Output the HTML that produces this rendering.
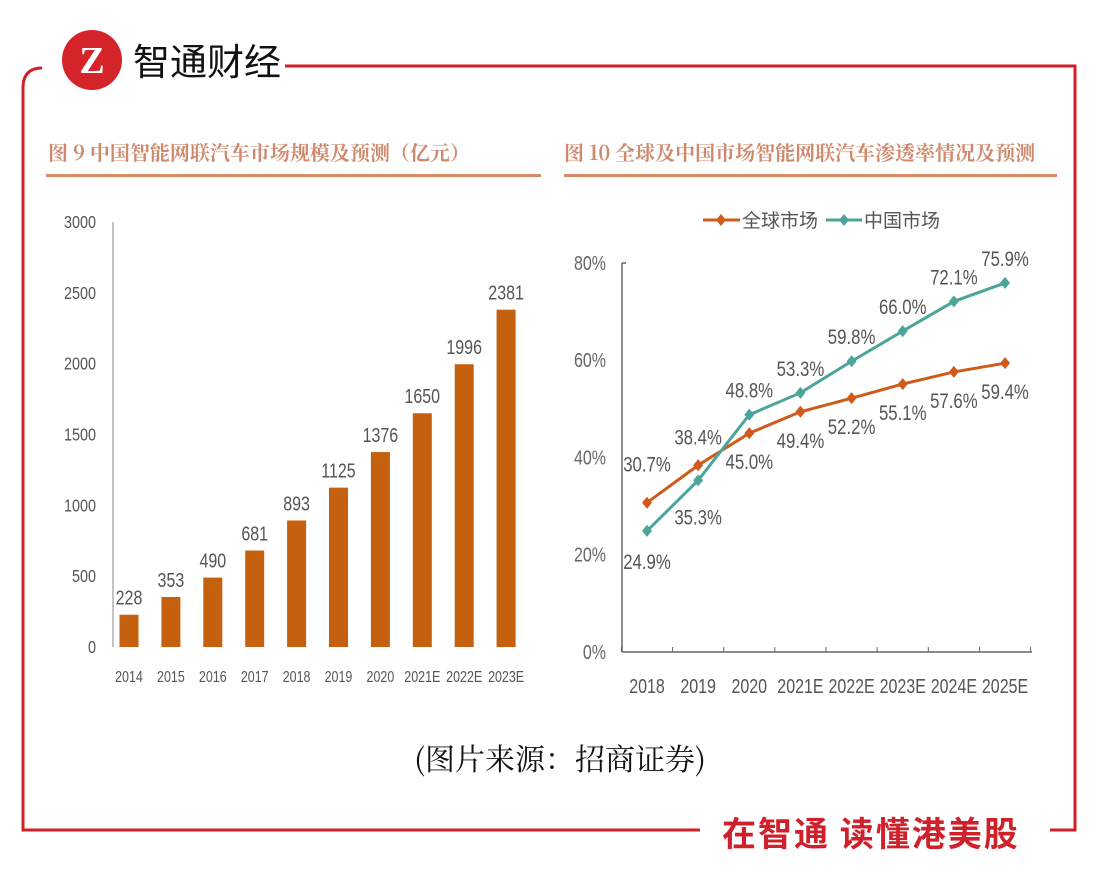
<!DOCTYPE html>
<html><head><meta charset="utf-8">
<style>
body{margin:0;background:#fff;width:1103px;height:887px;overflow:hidden;font-family:"Liberation Sans","Noto Sans CJK SC",sans-serif;}
svg{position:absolute;left:0;top:0}
</style></head><body>
<svg width="1103" height="887">
  <g fill="none" stroke="#d0202a" stroke-width="3">
    <path d="M42 68 Q24 68 23 86 L23 830 L700 830"/>
    <path d="M285 66 L1075 66 L1075 830 L1050 830"/>
  </g>
  <g>
    <circle cx="92" cy="60" r="30" fill="#d42329"/>
    <text x="92" y="73" font-family="Liberation Serif,serif" font-size="38" font-weight="bold" fill="#fff" text-anchor="middle">Z</text>
    <text x="133" y="75" font-size="37" fill="#111" font-family="Liberation Sans,'Noto Sans CJK SC',sans-serif">智通财经</text>
  </g>
  <text x="48" y="160" font-size="20" font-weight="bold" fill="#cf8a6e" font-family="'Noto Serif CJK SC',serif">图 9  中国智能网联汽车市场规模及预测（亿元）</text>
  <rect x="46" y="174" width="495" height="3" fill="#d98a66"/>
  <text x="564" y="160" font-size="20" font-weight="bold" fill="#cf8a6e" font-family="'Noto Serif CJK SC',serif">图 10  全球及中国市场智能网联汽车渗透率情况及预测</text>
  <rect x="564" y="174" width="493" height="3" fill="#d98a66"/>
  <g id="bar"></g>
  <g id="line"></g>
  <text x="560" y="770" font-size="30" fill="#111" text-anchor="middle" font-family="'Noto Serif CJK SC',serif">(图片来源：招商证券)</text>
  <text x="722" y="846" font-size="34" font-weight="bold" fill="#d0202a" letter-spacing="2" font-family="'Noto Sans CJK SC',sans-serif">在智通  读懂港美股</text>
</svg>
<script>
const barCats=["2014","2015","2016","2017","2018","2019","2020","2021E","2022E","2023E"];
const barVals=[228,353,490,681,893,1125,1376,1650,1996,2381];
const barTicks=[0,500,1000,1500,2000,2500,3000];
const lineCats=["2018","2019","2020","2021E","2022E","2023E","2024E","2025E"];
const globalVals=[30.7,38.4,45.0,49.4,52.2,55.1,57.6,59.4];
const chinaVals=[24.9,35.3,48.8,53.3,59.8,66.0,72.1,75.9];
const pctTicks=[0,20,40,60,80];
const NS="http://www.w3.org/2000/svg";
function mk(p,t,a){const e=document.createElementNS(NS,t);for(const k in a)e.setAttribute(k,a[k]);p.appendChild(e);return e;}
function txt(p,x,y,s,a,sx){sx=sx||0.8;const e=mk(p,'text',Object.assign({x:x,y:y,'font-size':16,fill:'#444','text-anchor':'middle',transform:`translate(${x},0) scale(${sx},1) translate(${-x},0)`},a||{}));e.textContent=s;return e;}
const bg=document.getElementById('bar');
const by=v=>647-v*(425/3000);
const bx=i=>129+i*41.9;
mk(bg,'line',{x1:113,y1:222,x2:113,y2:647,stroke:'#888','stroke-width':1});
barTicks.forEach(t=>{const e=txt(bg,96,by(t)+6,String(t),{'text-anchor':'end','font-size':18,fill:'#555'});
});
barCats.forEach((c,i)=>{
 const r=mk(bg,'rect',{x:bx(i)-9.5,y:by(barVals[i]),width:19,height:647-by(barVals[i]),fill:'#c5600f'});
 
 
 const l=txt(bg,bx(i),by(barVals[i])-10,String(barVals[i]),{'font-size':20,fill:'#555'});
 
 
 const x=txt(bg,bx(i),682,c,{'font-size':16,fill:'#555'},0.78);
 
 
});
const lg=document.getElementById('line');
const ly=v=>652-v*(389/80);
const lx=i=>647+i*51.15;
mk(lg,'line',{x1:622,y1:263,x2:622,y2:652,stroke:'#666','stroke-width':1.5});
mk(lg,'line',{x1:622,y1:263,x2:626,y2:263,stroke:'#666','stroke-width':1.5});
mk(lg,'line',{x1:622,y1:652,x2:1032,y2:652,stroke:'#666','stroke-width':1.5});
for(let i=0;i<=lineCats.length;i++){mk(lg,'line',{x1:lx(i)-25.6,y1:652,x2:lx(i)-25.6,y2:647,stroke:'#666'});}
pctTicks.forEach(t=>{const e=txt(lg,606,ly(t)+7,t+'%',{'text-anchor':'end','font-size':20,fill:'#666'});
});
lineCats.forEach((c,i)=>{const e=txt(lg,lx(i),693,c,{'font-size':20,fill:'#555'});
});
function series(vals,color,name,off){
 mk(lg,'polyline',{points:vals.map((v,i)=>lx(i)+','+ly(v)).join(' '),fill:'none',stroke:color,'stroke-width':3});
 vals.forEach((v,i)=>{
  const d=mk(lg,'path',{d:`M${lx(i)} ${ly(v)-6}L${lx(i)+5} ${ly(v)}L${lx(i)} ${ly(v)+6}L${lx(i)-5} ${ly(v)}Z`,fill:color});
  
  
  const o=off(i);
  const t=txt(lg,lx(i)+o[0],ly(v)+o[1],v.toFixed(1)+'%',{'font-size':21,fill:'#555'});
  
  
 });
}
series(globalVals,'#cf5a1a','global',i=>i==0?[0,-31]:i==1?[0,-21]:[0,36]);
series(chinaVals,'#4da59a','china',i=>i==0?[0,38]:i==1?[0,44]:[0,-17]);
const lgd=mk(lg,'g',{});


mk(lgd,'line',{x1:703,y1:220,x2:740,y2:220,stroke:'#cf5a1a','stroke-width':3});
mk(lgd,'path',{d:'M721 214L726 220L721 226L716 220Z',fill:'#cf5a1a'});
txt(lgd,742,227,'全球市场',{'text-anchor':'start','font-size':19,fill:'#555','font-family':'"Noto Sans CJK SC",sans-serif'},1);
mk(lgd,'line',{x1:826,y1:220,x2:862,y2:220,stroke:'#4da59a','stroke-width':3});
mk(lgd,'path',{d:'M844 214L849 220L844 226L839 220Z',fill:'#4da59a'});
txt(lgd,864,227,'中国市场',{'text-anchor':'start','font-size':19,fill:'#555','font-family':'"Noto Sans CJK SC",sans-serif'},1);
</script>
</body></html>
